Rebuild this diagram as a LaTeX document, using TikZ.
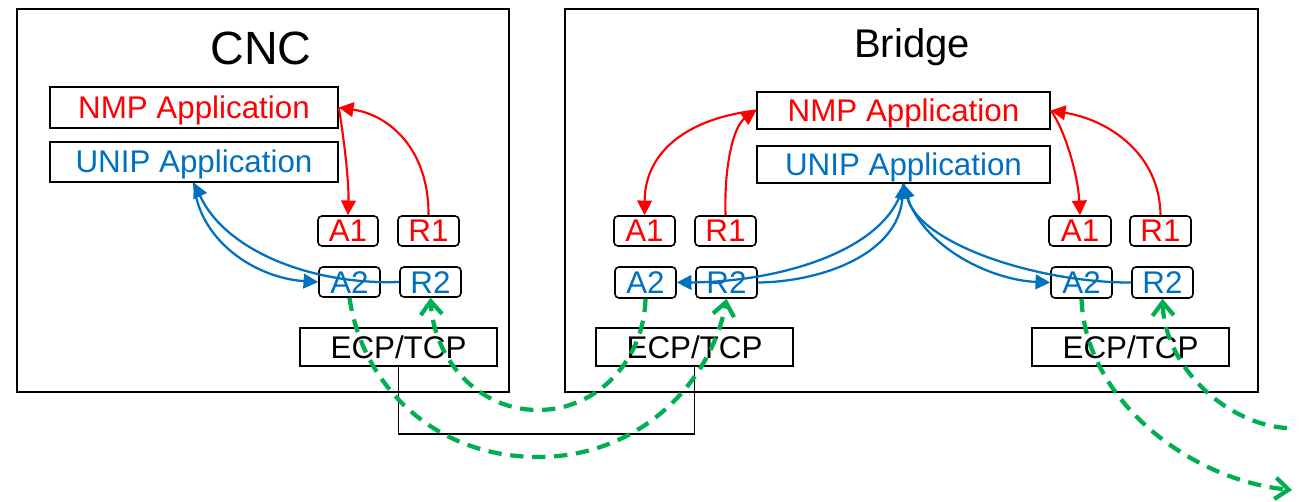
\documentclass[tikz,border=0pt]{standalone}
\usepackage{fontspec}
\setmainfont{Liberation Sans}
\usetikzlibrary{arrows.meta}
\definecolor{myred}{HTML}{FF0000}
\definecolor{myblue}{HTML}{0070C0}
\definecolor{mygreen}{HTML}{00B050}
\begin{document}
\begin{tikzpicture}[x=0.75pt,y=-0.75pt,
  sz/.style 2 args={minimum width=#1*0.75pt,minimum height=#2*0.75pt},
  boxframe/.style={draw=black,line width=1.2pt,inner sep=0pt},
  appbox/.style={boxframe,font=\fontsize{23.5}{28}\selectfont,text height=16.5pt,text depth=0pt},
  portbox/.style={appbox,rounded corners=3pt},
  mytitle/.style={inner sep=0pt,anchor=base},
  redarr/.style={draw=myred,line width=1.6pt,-{Triangle[length=11pt,width=11pt]}},
  bluearr/.style={draw=myblue,line width=1.7pt,-{Triangle[length=11pt,width=11pt]}},
  greenarr/.style={draw=mygreen,line width=3.2pt,dash pattern=on 10pt off 6.5pt,-{Straight Barb[length=10pt,width=16pt]}},
  busline/.style={draw=black,line width=1.2pt},
]
\useasboundingbox (0,0) rectangle (1302,502);

% containers
\node[boxframe,sz={492}{383}] (cnc) at (263,200.5) {};
\node[boxframe,sz={693}{383}] (bridge) at (911.5,200.5) {};
\node[mytitle,font=\fontsize{35}{40}\selectfont] (cnct) at (261,65) {CNC};
\node[mytitle,font=\fontsize{30}{36}\selectfont] (brt) at (912,58) {Bridge};

% CNC
\node[appbox,sz={288}{41},text=myred] (nmpC) at (194,107.5) {NMP Application};
\node[appbox,sz={288}{40},text=myblue] (unipC) at (194,162) {UNIP Application};
\node[portbox,sz={60}{30},text=myred] (a1C) at (348,231) {A1};
\node[portbox,sz={61}{30},text=myred] (r1C) at (428.5,231) {R1};
\node[portbox,sz={61}{30},text=myblue] (a2C) at (349.5,282) {A2};
\node[portbox,sz={61}{30},text=myblue] (r2C) at (430.5,282) {R2};
\node[appbox,sz={197}{38}] (ecpC) at (398.5,347) {ECP/TCP};

% Bridge
\node[appbox,sz={293}{37},text=myred] (nmpB) at (903.5,110.5) {NMP Application};
\node[appbox,sz={293}{37},text=myblue] (unipB) at (903.5,164.5) {UNIP Application};
\node[portbox,sz={61}{30},text=myred] (a1L) at (644.5,231) {A1};
\node[portbox,sz={61}{30},text=myred] (r1L) at (725.5,231) {R1};
\node[portbox,sz={61}{31},text=myblue] (a2L) at (645.5,282.5) {A2};
\node[portbox,sz={61}{31},text=myblue] (r2L) at (726.5,282.5) {R2};
\node[appbox,sz={197}{38}] (ecpL) at (694.5,347) {ECP/TCP};
\node[portbox,sz={62}{30},text=myred] (a1R) at (1080,231) {A1};
\node[portbox,sz={61}{30},text=myred] (r1R) at (1160.5,231) {R1};
\node[portbox,sz={61}{31},text=myblue] (a2R) at (1081.5,282.5) {A2};
\node[portbox,sz={61}{31},text=myblue] (r2R) at (1162.5,282.5) {R2};
\node[appbox,sz={197}{38}] (ecpR) at (1130.5,347) {ECP/TCP};

% bus between ECP/TCP
\coordinate (bus) at (548,434);
\draw[busline] (ecpC.south) |- (bus) -| (ecpL.south);

% red
\draw[redarr] (nmpC.east) .. controls (345,145) and (349,185) .. (a1C.north);
\draw[redarr] (r1C.north) .. controls (429,150) and (390,115) .. (nmpC.east);
\draw[redarr] (nmpB.west) .. controls (690,118) and (645,150) .. (a1L.north);
\draw[redarr] (r1L.north) .. controls (724,160) and (735,125) .. (nmpB.west);
\draw[redarr] (nmpB.east) .. controls (1065,130) and (1078,175) .. (a1R.north);
\draw[redarr] (r1R.north) .. controls (1160,155) and (1110,120) .. (nmpB.east);

% blue
\draw[bluearr] (unipC.south) .. controls (198,240) and (255,278) .. (a2C.west);
\draw[bluearr] (r2C.west) .. controls (310,285) and (225,250) .. (unipC.south);
\draw[bluearr] (unipB.south) .. controls (890,250) and (780,282) .. (a2L.east);
\draw[bluearr] (r2L.east) .. controls (820,282) and (898,255) .. (unipB.south);
\draw[bluearr] (unipB.south) .. controls (915,245) and (990,280) .. (a2R.west);
\draw[bluearr] (r2R.west) .. controls (1040,283) and (920,245) .. (unipB.south);

% green
\coordinate (lowmid) at (538,457);
\coordinate (upmid) at (538,410);
\coordinate (outA) at (1292,490);
\coordinate (inR) at (1287,428);
\draw[greenarr] (a2C.south) .. controls (362,385) and (434,457) .. (lowmid) .. controls (642,457) and (712,380) .. (r2L.south);
\draw[greenarr] (a2L.south) .. controls (644,360) and (597.6,410) .. (upmid) .. controls (478.4,410) and (434,360) .. (r2C.south);
\draw[greenarr] (a2R.south) .. controls (1085,400) and (1190,480) .. (outA);
\draw[greenarr] (inR) .. controls (1230,425) and (1165,370) .. (r2R.south);
\end{tikzpicture}
\end{document}
